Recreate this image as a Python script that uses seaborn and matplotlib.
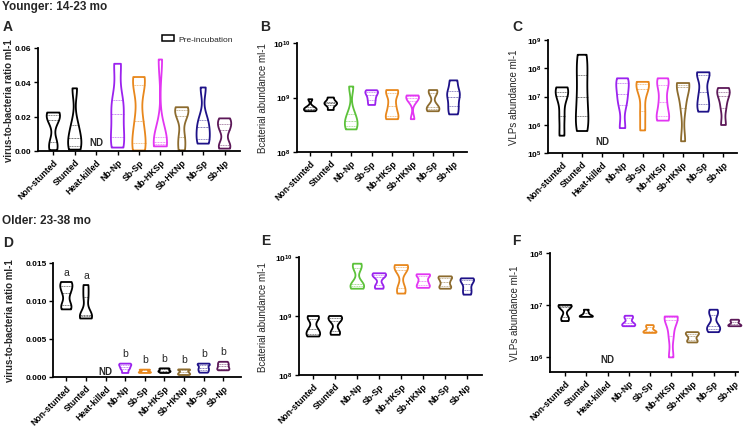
import numpy as np
import pandas as pd
import matplotlib
matplotlib.use("Agg")
import matplotlib.pyplot as plt
from matplotlib.ticker import FuncFormatter, LogLocator, NullLocator, FormatStrFormatter, FixedLocator
from matplotlib.patches import Patch
from matplotlib.transforms import ScaledTranslation
import seaborn as sns

# ---------------- data ----------------
GROUPS_9 = ["Non-stunted", "Stunted", "Heat-killed", "Nb-Np", "Sb-Sp",
            "Nb-HKSp", "Sb-HKNp", "Nb-Sp", "Sb-Np"]
GROUPS_8 = ["Non-stunted", "Stunted", "Nb-Np", "Sb-Sp",
            "Nb-HKSp", "Sb-HKNp", "Nb-Sp", "Sb-Np"]

# A: younger, virus-to-bacteria ratio
young_ratio = {
    "Non-stunted": [0.0005, 0.0050, 0.0178, 0.0210, 0.0224],
    "Stunted":     [0.0008, 0.0030, 0.0078, 0.0150, 0.0365],
    "Nb-Np":       [0.0020, 0.0082, 0.0216, 0.0300, 0.0508],
    "Sb-Sp":       [0.0003, 0.0049, 0.0175, 0.0386, 0.0431],
    "Nb-HKSp":     [0.0027, 0.0040, 0.0051, 0.0080, 0.0533],
    "Sb-HKNp":     [0.0004, 0.0080, 0.0202, 0.0240, 0.0255],
    "Nb-Sp":       [0.0043, 0.0067, 0.0137, 0.0180, 0.0370],
    "Sb-Np":       [0.0014, 0.0037, 0.0122, 0.0160, 0.0190],
}
# B: younger, bacterial abundance
young_bacteria = {
    "Non-stunted": [5.6e8, 5.9e8, 6.2e8, 6.6e8, 9.3e8],
    "Stunted":     [5.9e8, 7.2e8, 7.8e8, 8.4e8, 1.0e9],
    "Nb-Np":       [2.6e8, 3.0e8, 3.7e8, 5.0e8, 1.59e9],
    "Sb-Sp":       [7.3e8, 9.0e8, 1.09e9, 1.25e9, 1.36e9],
    "Nb-HKSp":     [4.0e8, 4.6e8, 7.0e8, 1.2e9, 1.37e9],
    "Sb-HKNp":     [4.0e8, 8.5e8, 1.0e9, 1.05e9, 1.09e9],
    "Nb-Sp":       [5.6e8, 6.2e8, 6.8e8, 1.2e9, 1.37e9],
    "Sb-Np":       [4.9e8, 7.0e8, 1.04e9, 1.3e9, 2.06e9],
}
# C: younger, VLP abundance
young_vlps = {
    "Non-stunted": [4.1e5, 2.0e6, 1.05e7, 1.5e7, 2.1e7],
    "Stunted":     [6.0e5, 2.0e6, 1.0e7, 6.0e7, 3.0e8],
    "Nb-Np":       [7.6e5, 5.0e6, 1.2e7, 3.0e7, 4.4e7],
    "Sb-Sp":       [6.3e5, 3.0e6, 1.8e7, 2.8e7, 3.3e7],
    "Nb-HKSp":     [1.4e6, 2.1e6, 6.6e6, 2.5e7, 4.4e7],
    "Sb-HKNp":     [2.6e5, 4.0e6, 2.2e7, 2.6e7, 3.0e7],
    "Nb-Sp":       [2.9e6, 5.5e6, 1.4e7, 5.8e7, 7.2e7],
    "Sb-Np":       [9.8e5, 4.0e6, 1.05e7, 1.5e7, 2.0e7],
}
# D: older, virus-to-bacteria ratio
old_ratio = {
    "Non-stunted": [0.0089, 0.0095, 0.0111, 0.0120, 0.0125],
    "Stunted":     [0.0077, 0.0080, 0.0082, 0.0105, 0.0121],
    "Nb-Np":       [0.00053, 0.0010, 0.0013, 0.0016, 0.00176],
    "Sb-Sp":       [0.00053, 0.0006, 0.0007, 0.0009, 0.00097],
    "Nb-HKSp":     [0.00053, 0.0007, 0.0008, 0.0010, 0.00114],
    "Sb-HKNp":     [0.00026, 0.0004, 0.0006, 0.0009, 0.0010],
    "Nb-Sp":       [0.00057, 0.0009, 0.0012, 0.0016, 0.00176],
    "Sb-Np":       [0.00088, 0.0011, 0.0014, 0.0017, 0.0020],
}
old_ratio_letters = {"Non-stunted": "a", "Stunted": "a", "Nb-Np": "b", "Sb-Sp": "b",
                     "Nb-HKSp": "b", "Sb-HKNp": "b", "Nb-Sp": "b", "Sb-Np": "b"}
# E: older, bacterial abundance
old_bacteria = {
    "Non-stunted": [4.5e8, 5.0e8, 6.0e8, 9.0e8, 1.0e9],
    "Stunted":     [4.8e8, 5.5e8, 8.2e8, 9.2e8, 1.0e9],
    "Nb-Np":       [2.9e9, 3.2e9, 3.5e9, 6.5e9, 7.7e9],
    "Sb-Sp":       [2.9e9, 3.3e9, 4.6e9, 5.0e9, 5.3e9],
    "Nb-HKSp":     [2.4e9, 3.0e9, 6.0e9, 6.8e9, 7.3e9],
    "Sb-HKNp":     [3.0e9, 3.3e9, 3.9e9, 4.8e9, 5.1e9],
    "Nb-Sp":       [2.9e9, 3.2e9, 3.8e9, 4.4e9, 4.7e9],
    "Sb-Np":       [2.3e9, 2.8e9, 3.5e9, 4.1e9, 4.35e9],
}
# F: older, VLP abundance
old_vlps = {
    "Non-stunted": [4.9e6, 5.8e6, 9.0e6, 9.6e6, 1.0e7],
    "Stunted":     [5.9e6, 6.0e6, 6.2e6, 7.0e6, 8.1e6],
    "Nb-Np":       [3.9e6, 4.1e6, 4.5e6, 5.5e6, 6.2e6],
    "Sb-Sp":       [2.9e6, 3.0e6, 3.2e6, 3.7e6, 4.1e6],
    "Nb-HKSp":     [9.8e5, 2.5e6, 5.2e6, 5.8e6, 6.0e6],
    "Sb-HKNp":     [1.9e6, 2.1e6, 2.5e6, 2.8e6, 3.0e6],
    "Nb-Sp":       [3.0e6, 3.5e6, 4.0e6, 6.5e6, 8.1e6],
    "Sb-Np":       [3.9e6, 4.0e6, 4.3e6, 4.8e6, 5.2e6],
}

# ---------------- styles ----------------
BLACK = "#000000"
PURPLE = "#9B22EE"
ORANGE = "#E8871C"
MAGENTA = "#E236F2"
BROWN = "#8C6B2E"
NAVY = "#1E1288"
PLUM = "#5C1858"
GREEN = "#5CC23A"

pal_main = {"Non-stunted": BLACK, "Stunted": BLACK, "Nb-Np": PURPLE, "Sb-Sp": ORANGE,
            "Nb-HKSp": MAGENTA, "Sb-HKNp": BROWN, "Nb-Sp": NAVY, "Sb-Np": PLUM}
pal_d = dict(pal_main, **{"Nb-HKSp": BLACK})
pal_be = {"Non-stunted": BLACK, "Stunted": BLACK, "Nb-Np": GREEN, "Sb-Sp": PURPLE,
          "Nb-HKSp": ORANGE, "Sb-HKNp": MAGENTA, "Nb-Sp": BROWN, "Sb-Np": NAVY}

sns.set_style("ticks")
plt.rcParams["font.family"] = ["Liberation Sans", "DejaVu Sans"]
plt.rcParams["mathtext.fontset"] = "custom"
plt.rcParams["mathtext.rm"] = "Liberation Sans"
plt.rcParams["mathtext.bf"] = "Liberation Sans:bold"

W, H = 750, 427
fig = plt.figure(figsize=(W / 100, H / 100), dpi=100)


def rect(l, r, t, b):
    return [l / W, 1 - b / H, (r - l) / W, (b - t) / H]


panels = [
    dict(letter="A", data=young_ratio, order=GROUPS_9, pal=pal_main, log=False,
         ylim=(0, 0.06), yticks=[0, 0.02, 0.04, 0.06], fmt="%.2f",
         ylabel="virus-to-bacteria ratio ml-1", bold=True, box=(37.5, 240, 49, 152),
         xlim=(-0.74, 8.72), nd=6.5, lab=(3, 27), labx=23.5),
    dict(letter="B", data=young_bacteria, order=GROUPS_8, pal=pal_be, log=True,
         ylim=(1e8, 1e10), ylabel="Bcaterial abundance ml-1", bold=False,
         box=(297, 467, 44, 153), xlim=(-0.65, 7.66), nd=None, lab=(260, 27), labx=29),
    dict(letter="C", data=young_vlps, order=GROUPS_9, pal=pal_main, log=True,
         ylim=(1e5, 1e9), ylabel="VLPs abundance ml-1", bold=False,
         box=(548, 737, 41, 154), xlim=(-0.69, 8.67), nd=8.6, lab=(512, 27), labx=29),
    dict(letter="D", data=old_ratio, order=GROUPS_9, pal=pal_d, log=False,
         ylim=(0, 0.015), yticks=[0, 0.005, 0.010, 0.015], fmt="%.3f",
         ylabel="virus-to-bacteria ratio ml-1", bold=True, box=(53, 241, 264, 378),
         xlim=(-0.68, 8.9), nd=4.5, lab=(3, 243), labx=38, letters=old_ratio_letters),
    dict(letter="E", data=old_bacteria, order=GROUPS_8, pal=pal_be, log=True,
         ylim=(1e8, 1e10), ylabel="Bcaterial abundance ml-1", bold=False,
         box=(299, 482, 258, 376), xlim=(-0.65, 7.67), nd=None, lab=(261, 241), labx=31),
    dict(letter="F", data=old_vlps, order=GROUPS_9, pal=pal_main, log=True,
         ylim=(10 ** 5.71, 1e8), ylabel="VLPs abundance ml-1", bold=False,
         box=(550, 738, 254, 373), xlim=(-0.71, 8.15), nd=9.4, lab=(512, 241), labx=30),
]

shift = ScaledTranslation(5 / 100, 2 / 100, fig.dpi_scale_trans)

for p in panels:
    l, r, t, b = p["box"]
    ax = fig.add_axes(rect(l, r, t, b))
    df = pd.DataFrame([(g, v) for g, vals in p["data"].items() for v in vals],
                      columns=["group", "value"])
    present = [g for g in p["order"] if g in p["data"]]
    sns.violinplot(data=df, x="group", y="value", hue="group", order=p["order"],
                   hue_order=present, palette=p["pal"], saturation=1, fill=False,
                   inner="quart", cut=0, density_norm="width", width=0.62,
                   linewidth=1.3, bw_adjust=0.6, legend=False,
                   log_scale=(False, True) if p["log"] else None,
                   inner_kws=dict(linewidth=0.6, alpha=0.6), ax=ax)
    ax.set_xlim(*p["xlim"])
    ax.set_ylim(*p["ylim"])
    ax.set_xlabel("")
    if p["log"]:
        ax.yaxis.set_major_locator(LogLocator(base=10, numticks=12))
        ax.yaxis.set_minor_locator(NullLocator())
        ax.yaxis.set_major_formatter(FuncFormatter(
            lambda v, pos: r"$\mathbf{10^{%d}}$" % int(round(np.log10(v)))))
    else:
        ax.yaxis.set_major_locator(FixedLocator(p["yticks"]))
        ax.yaxis.set_major_formatter(FormatStrFormatter(p["fmt"]))
    ax.set_xticks(range(len(p["order"])))
    ax.set_xticklabels(p["order"], rotation=45, ha="right", va="top",
                       rotation_mode="anchor", fontweight="bold", fontsize=6.3)
    for lab in ax.get_xticklabels():
        lab.set_transform(lab.get_transform() + shift)
    for lab in ax.get_yticklabels():
        lab.set_fontweight("bold")
        lab.set_fontsize(6)
    ax.tick_params(axis="both", direction="out", length=3, width=1, pad=1.5, colors="black")
    for s in ("top", "right"):
        ax.spines[s].set_visible(False)
    for s in ("left", "bottom"):
        ax.spines[s].set_linewidth(1.3)
        ax.spines[s].set_color("black")
    ax.set_ylabel(p["ylabel"], fontsize=7, fontweight="bold" if p["bold"] else "normal")
    ax.yaxis.set_label_coords(-p["labx"] / (r - l), 0.5)
    for coll in ax.collections:
        coll.set_clip_on(False)
    # ND marker for the heat-killed group
    if p["nd"] is not None and "Heat-killed" in p["order"]:
        ax.annotate("ND", xy=(p["order"].index("Heat-killed"), 0),
                    xycoords=("data", "axes fraction"), xytext=(0, p["nd"]),
                    textcoords="offset points", ha="center", va="center",
                    fontsize=7, fontweight="bold")
    if "letters" in p:
        for g, letter in p["letters"].items():
            ax.annotate(letter, xy=(p["order"].index(g), max(p["data"][g])),
                        xytext=(0, 7.5), textcoords="offset points",
                        ha="center", va="center", fontsize=7.5)
    fig.text(p["lab"][0] / W, 1 - p["lab"][1] / H, p["letter"], fontsize=10,
             fontweight="bold", ha="left", va="center")
    if p["letter"] == "A":
        h = Patch(facecolor="white", edgecolor="black", linewidth=1.1, label="Pre-incubation")
        ax.legend(handles=[h], loc="center left", bbox_to_anchor=(0.617, 1.087),
                  frameon=False, fontsize=6, handlelength=1.4, handleheight=0.8,
                  handletextpad=0.5, borderpad=0, borderaxespad=0)

fig.text(2 / W, 1 - 7 / H, "Younger: 14-23 mo", fontsize=8.5, fontweight="bold",
         ha="left", va="center")
fig.text(2 / W, 1 - 221 / H, "Older: 23-38 mo", fontsize=8.5, fontweight="bold",
         ha="left", va="center")

fig.savefig("out.png", dpi=100)
